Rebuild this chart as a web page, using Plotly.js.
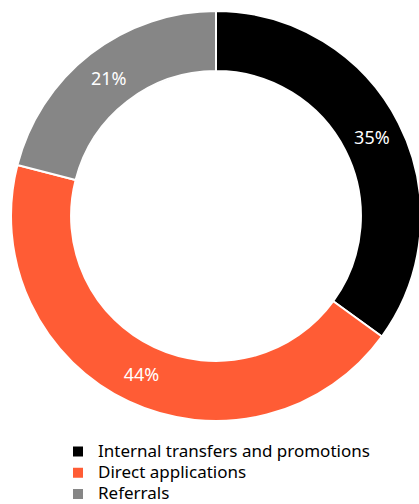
<!DOCTYPE html>
<html><head><meta charset="utf-8">
<script src="https://cdn.plot.ly/plotly-3.0.1.min.js"></script>
<style>html,body{margin:0;padding:0;overflow:hidden;background:#fff;}</style>
</head><body><div id="chart"></div>
<script>
const labels = ["Internal transfers and promotions", "Direct applications", "Referrals"];
const values = [35, 44, 21];
const colors = ["#000000", "#FF5C35", "#868686"];

const W = 440, H = 560;
// legend label text, drawn a bit larger than the legend row spacing font
const legendLabels = labels.map(l => '<span style="font-size:17px">' + l + '</span>');

Plotly.newPlot("chart", [{
  type: "pie",
  labels: legendLabels,
  values: values,
  sort: false,
  direction: "clockwise",
  rotation: 0,
  hole: 0.707,
  marker: {colors: colors, line: {color: "#ffffff", width: 2}},
  textinfo: "percent",
  texttemplate: "%{percent:.0%}",
  textposition: "inside",
  insidetextorientation: "horizontal",
  textfont: {color: "#ffffff", size: 18, family: "'Noto Sans', sans-serif"},
  domain: {x: [11/W, 421/W], y: [(H-421)/H, (H-11)/H]},
  hoverinfo: "none"
}], {
  width: W, height: H,
  margin: {l: 0, r: 0, t: 0, b: 0},
  paper_bgcolor: "#ffffff",
  showlegend: true,
  legend: {
    x: 58/W, xanchor: "left", y: (H-436)/H, yanchor: "top",
    orientation: "v",
    font: {family: "'Noto Sans', sans-serif", size: 14, color: "#000000"},
    itemwidth: 30, tracegroupgap: 0, bgcolor: "rgba(0,0,0,0)"
  }
}, {staticPlot: true, displayModeBar: false});
</script></body></html>
